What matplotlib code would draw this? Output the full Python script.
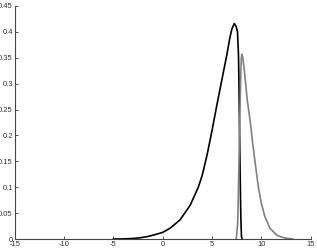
import matplotlib
matplotlib.use('Agg')
import matplotlib.pyplot as plt

# black curve
black_x = [-5.0, -4.0, -3.0, -2.3, -1.5, -0.6, 0.0, 0.74, 1.75, 2.77, 3.6, 4.0, 4.5,
           5.0, 5.5, 6.0, 6.5, 6.8, 7.0, 7.25, 7.45, 7.58, 7.68, 7.72, 7.78, 7.85,
           7.92, 7.98, 8.05]
black_y = [0.0, 0.0003, 0.0012, 0.0025, 0.005, 0.0096, 0.013, 0.021, 0.037, 0.065, 0.10,
           0.123, 0.163, 0.21, 0.26, 0.308, 0.356, 0.388, 0.405, 0.416, 0.41, 0.40,
           0.355, 0.31, 0.22, 0.12, 0.04, 0.005, 0.0]

# gray curve
gray_x = [7.45, 7.6, 7.7, 7.8, 7.9, 7.97, 8.03, 8.1, 8.25, 8.57, 8.85, 9.12, 9.42,
          9.69, 10.0, 10.36, 10.87, 11.55, 12.0, 12.56, 13.2]
gray_y = [0.0, 0.03, 0.12, 0.22, 0.31, 0.35, 0.357, 0.352, 0.33, 0.268, 0.23, 0.185,
          0.14, 0.101, 0.069, 0.043, 0.021, 0.0077, 0.004, 0.0015, 0.0]

xticks = [-15, -10, -5, 0, 5, 10, 15]
yticks = [0, 0.05, 0.1, 0.15, 0.2, 0.25, 0.3, 0.35, 0.4, 0.45]
ytick_labels = ['0', '0.05', '0.1', '0.15', '0.2', '0.25', '0.3', '0.35', '0.4', '0.45']

plt.rcParams['font.family'] = 'Liberation Sans'

fig = plt.figure(figsize=(3.17, 2.48), dpi=100)
ax = fig.add_axes([0.047, 0.036, 0.933, 0.94])

ax.plot(black_x, black_y, color='black', lw=1.2)
ax.plot(gray_x, gray_y, color='#808080', lw=1.2)

ax.set_xlim(-15, 15)
ax.set_ylim(0, 0.45)
ax.set_xticks(xticks)
ax.set_xticklabels([str(t) for t in xticks])
ax.set_yticks(yticks)
ax.set_yticklabels(ytick_labels)
ax.tick_params(direction='in', length=2.5, width=0.6, labelsize=5.5, pad=1.5,
               colors='#333333')

for side in ['top', 'right']:
    ax.spines[side].set_visible(False)
for side in ['left', 'bottom']:
    ax.spines[side].set_linewidth(0.8)
    ax.spines[side].set_color('#444444')

fig.savefig('out.png', dpi=100)
